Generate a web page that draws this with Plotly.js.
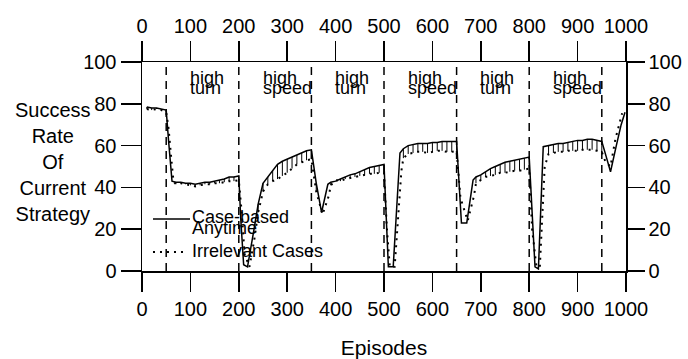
<!DOCTYPE html>
<html><head><meta charset="utf-8">
<script src="https://cdn.plot.ly/plotly-3.0.1.min.js"></script>
<style>html,body{margin:0;padding:0;background:#fff}#chart{width:688px;height:359px}</style>
</head><body><div id="chart"></div>
<script>
// Case-based Anytime (solid)
const episodesA = [10,20,30,40,50,55,62,70,80,90,100,110,120,130,140,150,160,170,180,190,200,
  204,210,218,230,240,250,260,270,280,290,300,310,320,330,340,350,
  360,371,384,390,400,410,420,430,440,450,460,470,480,490,500,
  509,519,533,540,550,560,570,580,590,600,610,620,630,640,650,
  660,671,684,690,700,710,720,730,740,750,760,770,780,790,800,
  812,819,829,840,850,860,870,880,890,900,910,920,930,940,950,
  960,968,980,990,998];
const caseBased = [78.5,78,78,77.5,77,62,43,42.5,42.5,42,42,41.5,42,42.5,42.5,43,43.5,44,45,45,45.5,
  25,3,2,18,32,42,45,48,51,52.5,53.5,54.5,55.5,56.5,57.5,58,
  42,28,41.5,42.5,43,44,45,46,46.5,47.5,48.5,49.5,50,50.5,51,
  2,2,56.5,58.5,60,60.5,61,61,61,61.5,61.5,62,62,62,62,
  23,23,43.5,45,46,47.5,49,50,51,52,52.5,53,53.5,54,54.5,
  2,1,59.5,60,60.5,61,61,61.5,62,62.5,62.5,63,63,62.5,62,
  54,47.5,60,70,76];

// Irrelevant Cases (dotted)
const episodesB = [10,20,30,40,50,55,60,65,70,80,90,100,110,120,130,140,150,160,170,180,190,200,
  206,212,222,232,240,250,260,270,280,290,300,310,320,330,340,350,
  360,373,386,390,400,410,420,430,440,450,460,470,480,490,500,
  506,512,522,536,540,550,560,570,580,590,600,610,620,630,640,650,
  658,673,686,690,700,710,720,730,740,750,760,770,780,790,800,
  806,815,822,832,840,850,860,870,880,890,900,910,920,930,940,950,
  958,968,978,992];
const irrelevant = [77.5,77,77.5,77,76,68,55,43,41.5,42,41.5,41,40.5,41,41.5,41.5,42,42,42.5,43,43,43.5,
  28,8,2,15,28,38,41.5,43,44,45.5,47,49,51,52,53,53.5,
  38,27,36,41,43.5,43,44,44.5,45,45.5,46,46.5,46.5,47,47,
  20,2,2,48,54,56,56.5,57,57,56.5,57,57.5,57.5,57,57,57.5,
  35,24,36,42,43.5,45,45.5,46,47,47,47.5,48,48,48.5,49,
  20,2,2,50,56,56.5,57,57,57.5,57.5,57.5,58,58,58,57.5,57,
  52,50,63,75.5];

const phaseBoundaries = [50,200,350,500,650,800,950];
const phaseTop = ['high','high','high','high','high','high'];
const phaseBottom = ['turn','speed','turn','speed','turn','speed'];
const xTicks = [0,100,200,300,400,500,600,700,800,900,1000];
const yTicks = [0,20,40,60,80,100];
const seriesNames = ['Case-based', 'Anytime', 'Irrelevant Cases'];
const yTitleLines = ['Success','Rate','Of','Current','Strategy'];

// comb: vertical strokes from dotted points up to the solid curve where both share an episode
const combPlus = episodesB.map((e,i)=>{
  const j = episodesA.indexOf(e);
  if (j < 0) return 0;
  const d = caseBased[j] - irrelevant[i];
  return d > 0 ? d : 0;
});
const combMinus = episodesB.map(()=>0);

const font = 'Liberation Sans, Arial, Helvetica, sans-serif';

const traces = [
  {x: episodesA, y: caseBased, type:'scatter', mode:'lines', name:'Case-based Anytime',
   line:{color:'#000', width:1.5}, xaxis:'x', yaxis:'y', hoverinfo:'skip'},
  {x: episodesB, y: irrelevant, type:'scatter', mode:'lines', name:'Irrelevant Cases',
   line:{color:'#000', width:2, dash:'2px,5px'}, xaxis:'x2', yaxis:'y2', hoverinfo:'skip',
   error_y:{type:'data', symmetric:false, array:combPlus, arrayminus:combMinus, width:0, thickness:1, color:'#000'}}
];

const shapes = phaseBoundaries.map(b=>({type:'line', xref:'x', yref:'y', x0:b, x1:b, y0:0, y1:99,
  line:{color:'#000', width:1.5, dash:'8px,6px'}}));
// legend samples
shapes.push({type:'line', xref:'paper', yref:'paper', x0:0.0227, x1:0.0992, y0:0.2488, y1:0.2488, line:{color:'#000', width:1.5}});
shapes.push({type:'line', xref:'paper', yref:'paper', x0:0.0227, x1:0.095, y0:0.0909, y1:0.0909, line:{color:'#000', width:2, dash:'2px,5px'}});

const annotations = [];
phaseBoundaries.slice(0,6).forEach((b,i)=>{
  annotations.push({x:b+45, y:92.3, xref:'x', yref:'y', text:phaseTop[i], showarrow:false, xanchor:'left', yanchor:'middle', font:{size:18, color:'#000', family:font}});
  annotations.push({x:b+45, y:87.6, xref:'x', yref:'y', text:phaseBottom[i], showarrow:false, xanchor:'left', yanchor:'middle', font:{size:18, color:'#000', family:font}});
});
annotations.push({x:0.0992, y:0.2584, xref:'paper', yref:'paper', text:seriesNames[0], showarrow:false, xanchor:'left', yanchor:'middle', font:{size:18, color:'#000', family:font}});
annotations.push({x:0.0992, y:0.2057, xref:'paper', yref:'paper', text:seriesNames[1], showarrow:false, xanchor:'left', yanchor:'middle', font:{size:18, color:'#000', family:font}});
annotations.push({x:0.0992, y:0.0957, xref:'paper', yref:'paper', text:seriesNames[2], showarrow:false, xanchor:'left', yanchor:'middle', font:{size:18, color:'#000', family:font}});
annotations.push({x:-0.1839, y:0.5215, xref:'paper', yref:'paper', text:yTitleLines.join('<br>'), showarrow:false, xanchor:'center', yanchor:'middle', align:'center', font:{size:20, color:'#000', family:font}});

const axisCommon = {showgrid:false, zeroline:false, showline:true, linecolor:'#000', linewidth:1.5,
  ticks:'outside', ticklen:19, tickwidth:1.5, tickcolor:'#000', tickmode:'array',
  tickfont:{size:20, color:'#000', family:font}};

const layout = {
  width:688, height:359,
  margin:{l:142, r:62, t:62, b:88, pad:0},
  paper_bgcolor:'#fff', plot_bgcolor:'#fff',
  showlegend:false,
  font:{family:font, color:'#000', size:20},
  xaxis: Object.assign({}, axisCommon, {range:[0,1000], tickvals:xTicks, ticktext:xTicks.map(String), side:'bottom', anchor:'y',
    title:{text:'Episodes', font:{size:21, color:'#000', family:font}, standoff:22}}),
  yaxis: Object.assign({}, axisCommon, {range:[0,100], tickvals:yTicks, ticktext:yTicks.map(String), side:'left', anchor:'x', ticklen:20}),
  xaxis2: Object.assign({}, axisCommon, {range:[0,1000], tickvals:xTicks, ticktext:xTicks.map(String), side:'top', overlaying:'x', anchor:'y2', ticklen:20}),
  yaxis2: Object.assign({}, axisCommon, {range:[0,100], tickvals:yTicks, ticktext:yTicks.map(String), side:'right', overlaying:'y', anchor:'x2', ticklen:17}),
  shapes: shapes,
  annotations: annotations
};

Plotly.newPlot('chart', traces, layout, {staticPlot:true, displayModeBar:false});
</script>
</body></html>
